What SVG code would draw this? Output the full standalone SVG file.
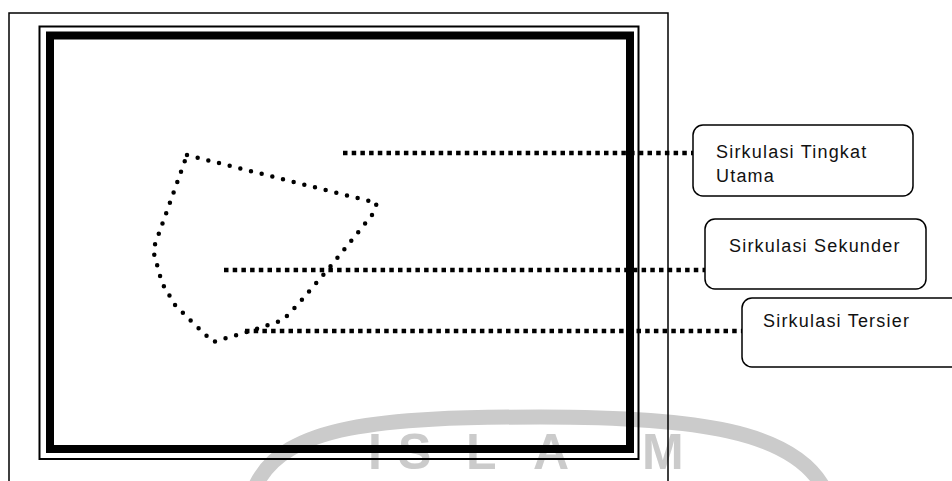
<svg xmlns="http://www.w3.org/2000/svg" width="952" height="481" viewBox="0 0 952 481">
<style>
.wm{fill:none;stroke:#cbcbcb;stroke-width:15}
.wmt{fill:#cbcbcb;font-family:"Liberation Sans",Arial,sans-serif;font-weight:bold;font-size:50px}
.frame{fill:none;stroke:#000}
.sq{fill:none;stroke:#000;stroke-width:4.5;stroke-dasharray:4.5 4.2}
.rd{fill:none;stroke:#000;stroke-width:4.5;stroke-linecap:round;stroke-linejoin:round;stroke-dasharray:0 11}
.box{fill:#fff;stroke:#000;stroke-width:1.5}
.lbl{fill:#111;font-family:"Liberation Sans",Arial,sans-serif;font-size:18px;letter-spacing:1.2px}
</style>
<rect width="952" height="481" fill="#fff"/>
<g id="watermark">
<path class="wm" d="M 256 485 C 285 425, 380 417, 540 417 C 700 417, 790 432, 822 485"/>
<text class="wmt" x="368 398 466 533 642" y="469">ISLAM</text>
</g>
<g id="frames">
<path class="frame" stroke-width="1.5" d="M 9 490 V 13 H 668 V 490"/>
<rect class="frame" stroke-width="2" x="39.5" y="26.5" width="599" height="432.5"/>
<rect class="frame" stroke-width="8" x="50" y="35.5" width="580" height="413.5"/>
</g>
<g id="circulation-area">
<path class="rd" d="M 187 155 L 377 203 L 372 215 L 360 230 L 330 267 L 300 302 L 283 320 L 247 332 L 213 342 L 190 320 L 175 305 L 162 283 L 153 250 L 187 155"/>
</g>
<g id="connectors">
<path class="sq" d="M 343 153 H 693"/>
<path class="sq" d="M 224 270 H 705"/>
<path class="sq" d="M 245 331 H 742"/>
</g>
<g id="node-utama">
<rect class="box" x="693" y="125" width="220" height="71" rx="10"/>
<text class="lbl" x="716" y="158">Sirkulasi Tingkat</text>
<text class="lbl" x="716" y="182">Utama</text>
</g>
<g id="node-sekunder">
<rect class="box" x="705" y="219" width="221" height="70" rx="10"/>
<text class="lbl" x="729" y="252">Sirkulasi Sekunder</text>
</g>
<g id="node-tersier">
<rect class="box" x="742" y="298" width="230" height="69" rx="10"/>
<text class="lbl" x="763" y="327">Sirkulasi Tersier</text>
</g>
</svg>
